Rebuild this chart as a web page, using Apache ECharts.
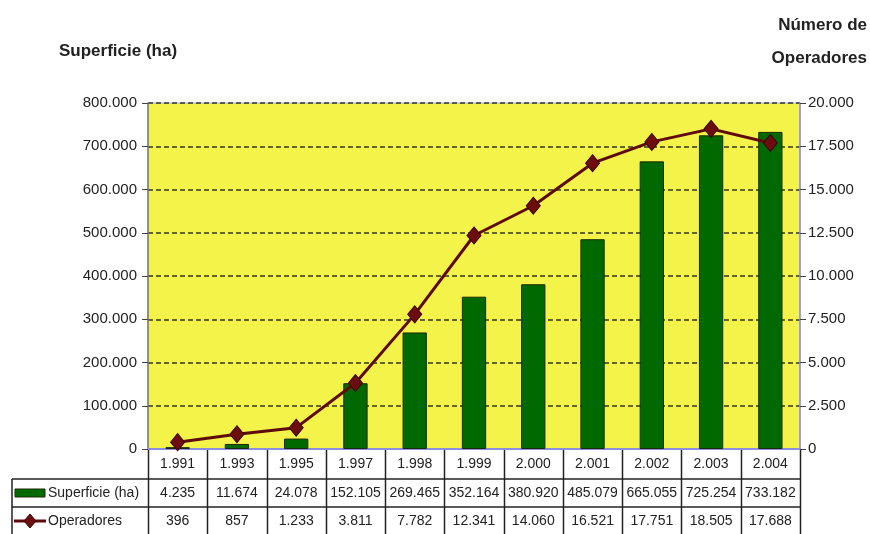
<!DOCTYPE html>
<html>
<head>
<meta charset="utf-8">
<script src="https://cdn.jsdelivr.net/npm/echarts@6/dist/echarts.min.js"></script>
<style>
  html, body { margin: 0; padding: 0; background: #ffffff; }
  #chart { width: 870px; height: 534px; }
</style>
</head>
<body>
<div id="chart"></div>
<script>
// Años del eje de categorías (con separador de miles, como en la tabla)
const years = ['1.991', '1.993', '1.995', '1.997', '1.998', '1.999', '2.000', '2.001', '2.002', '2.003', '2.004'];
// Superficie en hectáreas
const superficie = [4235, 11674, 24078, 152105, 269465, 352164, 380920, 485079, 665055, 725254, 733182];
// Número de operadores
const operadores = [396, 857, 1233, 3811, 7782, 12341, 14060, 16521, 17751, 18505, 17688];
const seriesNames = ['Superficie (ha)', 'Operadores'];
const leftTitle = 'Superficie (ha)';
const rightTitleLines = ['Número de', 'Operadores'];

const FONT = '"Liberation Sans", Arial, sans-serif';
const GREEN = '#006a00';
const MAROON = '#5e0b0b';

// Formato español: punto como separador de miles
const fmt = v => String(v).replace(/\B(?=(\d{3})+(?!\d))/g, '.');

const chart = echarts.init(document.getElementById('chart'), null, { renderer: 'canvas' });

const option = {
  animation: false,
  backgroundColor: '#ffffff',
  title: {
    text: leftTitle, left: 54, top: 38,
    textStyle: { fontFamily: FONT, fontSize: 17, fontWeight: 'bold', color: '#222' }
  },
  grid: {
    left: 148, right: 70, top: 103, bottom: 85,
    show: true, backgroundColor: '#f3f34a', borderColor: '#a9a9d6', borderWidth: 1
  },
  xAxis: {
    type: 'category',
    data: years,
    axisLine: { show: true, lineStyle: { color: '#8e8ee0', width: 2 } },
    axisTick: { show: false },
    axisLabel: { show: false },
    splitLine: { show: false }
  },
  yAxis: [
    {
      type: 'value', min: 0, max: 800000, interval: 100000, position: 'left',
      axisLine: { show: true, lineStyle: { color: '#7a7a7a', width: 1.5 } },
      axisTick: { show: true, length: 6, lineStyle: { color: '#444' } },
      axisLabel: { fontFamily: FONT, fontSize: 15, color: '#222', margin: 11, formatter: fmt },
      splitLine: { show: true, lineStyle: { color: '#333', width: 1.5, type: [5, 3] } }
    },
    {
      type: 'value', min: 0, max: 20000, interval: 2500, position: 'right',
      axisLine: { show: true, lineStyle: { color: '#8e8ee0', width: 1.5 } },
      axisTick: { show: true, length: 6, lineStyle: { color: '#444' } },
      axisLabel: { fontFamily: FONT, fontSize: 15, color: '#222', margin: 8, formatter: fmt },
      splitLine: { show: false }
    }
  ],
  series: [
    {
      name: seriesNames[0], type: 'bar', yAxisIndex: 0,
      data: superficie, barWidth: '41%',
      itemStyle: { color: GREEN, borderColor: '#1d2a05', borderWidth: 1 }
    },
    {
      name: seriesNames[1], type: 'line', yAxisIndex: 1,
      data: operadores,
      symbol: 'diamond', symbolSize: [14, 17],
      lineStyle: { color: MAROON, width: 3 },
      itemStyle: { color: '#6e0d0d', borderColor: '#3c0505', borderWidth: 1 }
    }
  ]
};

chart.setOption(option);

// Tabla de datos bajo el eje de categorías, alineada con las columnas del gráfico
const c0 = chart.convertToPixel({ xAxisIndex: 0 }, 0);
const c1 = chart.convertToPixel({ xAxisIndex: 0 }, 1);
const slot = c1 - c0;
const colLeft = c0 - slot / 2;
const colRight = colLeft + slot * years.length;
const yBase = chart.convertToPixel({ yAxisIndex: 0 }, 0);
const rows = [yBase + 1, yBase + 30, yBase + 58, yBase + 86];
const tableLeft = 12;
const bottomEdge = 540;
const lineStyle = { stroke: '#222', lineWidth: 1.5 };
const textFont = { fontFamily: FONT, fontSize: 14, fill: '#222' };

const elements = [];

// Título del eje derecho, alineado al borde derecho
rightTitleLines.forEach((t, i) => {
  elements.push({
    type: 'text', silent: true, x: 867, y: 25 + i * 33,
    style: { text: t, align: 'right', verticalAlign: 'middle', fontFamily: FONT, fontSize: 17, fontWeight: 'bold', fill: '#222' }
  });
});

for (let k = 0; k <= years.length; k++) {
  const x = Math.round(colLeft + k * slot) + 0.5;
  elements.push({ type: 'line', shape: { x1: x, y1: rows[0], x2: x, y2: bottomEdge }, style: lineStyle, silent: true });
}
[rows[1], rows[2]].forEach(y => {
  elements.push({ type: 'line', shape: { x1: tableLeft, y1: y, x2: colRight, y2: y }, style: lineStyle, silent: true });
});
elements.push({ type: 'line', shape: { x1: tableLeft, y1: rows[1], x2: tableLeft, y2: bottomEdge }, style: lineStyle, silent: true });

const rowValues = [years, superficie.map(fmt), operadores.map(fmt)];
rowValues.forEach((vals, r) => {
  const yMid = (rows[r] + rows[r + 1]) / 2;
  vals.forEach((v, i) => {
    elements.push({
      type: 'text', silent: true,
      x: colLeft + (i + 0.5) * slot, y: yMid,
      style: Object.assign({ text: v, align: 'center', verticalAlign: 'middle' }, textFont)
    });
  });
});

// Claves de la leyenda en la primera columna
const y1Mid = (rows[1] + rows[2]) / 2;
const y2Mid = (rows[2] + rows[3]) / 2;
elements.push({ type: 'rect', silent: true, shape: { x: tableLeft + 3, y: y1Mid - 4, width: 30, height: 8 },
  style: { fill: GREEN, stroke: '#1d2a05', lineWidth: 1 } });
elements.push({ type: 'text', silent: true, x: tableLeft + 36, y: y1Mid,
  style: Object.assign({ text: seriesNames[0], align: 'left', verticalAlign: 'middle' }, textFont) });
elements.push({ type: 'line', silent: true, shape: { x1: tableLeft + 2, y1: y2Mid, x2: tableLeft + 34, y2: y2Mid },
  style: { stroke: MAROON, lineWidth: 3 } });
elements.push({ type: 'polygon', silent: true,
  shape: { points: [[tableLeft + 18, y2Mid - 7], [tableLeft + 24, y2Mid], [tableLeft + 18, y2Mid + 7], [tableLeft + 12, y2Mid]] },
  style: { fill: '#6e0d0d', stroke: '#3c0505', lineWidth: 1 } });
elements.push({ type: 'text', silent: true, x: tableLeft + 36, y: y2Mid,
  style: Object.assign({ text: seriesNames[1], align: 'left', verticalAlign: 'middle' }, textFont) });

chart.setOption({ graphic: { elements: elements } });
</script>
</body>
</html>
